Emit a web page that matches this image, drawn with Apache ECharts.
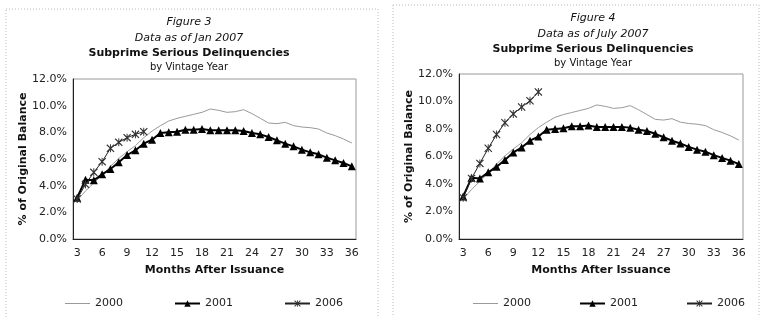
<!DOCTYPE html>
<html>
<head>
<meta charset="utf-8">
<script src="https://cdn.jsdelivr.net/npm/echarts@6/dist/echarts.min.js"></script>
<style>
  html, body { margin: 0; padding: 0; background: #fff; }
  #chart { width: 763px; height: 317px; }
</style>
</head>
<body>
<div id="chart"></div>
<script>
// months after issuance, 3..36
var months = [];
for (var m = 3; m <= 36; m++) months.push(String(m));

// percent of original balance
var vintage2000 = [2.9, 3.6, 4.2, 4.8, 5.45, 6.05, 6.55, 7.0, 7.6, 8.1,
                   8.5, 8.85, 9.05, 9.2, 9.35, 9.5, 9.75, 9.65, 9.5, 9.55,
                   9.7, 9.4, 9.05, 8.7, 8.65, 8.75, 8.5, 8.4, 8.35, 8.25,
                   7.95, 7.75, 7.5, 7.2];
var vintage2001 = [3.1, 4.45, 4.4, 4.85, 5.25, 5.75, 6.3, 6.65, 7.15, 7.45,
                   7.95, 8.0, 8.05, 8.2, 8.2, 8.25, 8.15, 8.15, 8.15, 8.15,
                   8.1, 7.95, 7.85, 7.65, 7.4, 7.15, 6.95, 6.7, 6.5, 6.35,
                   6.1, 5.9, 5.7, 5.45];
var vintage2006Jan = [3.0, 4.1, 5.0, 5.8, 6.8, 7.25, 7.6, 7.85, 8.05];
var vintage2006Jul = [3.0, 4.4, 5.5, 6.6, 7.6, 8.45, 9.1, 9.6, 10.05, 10.7];

var yTicks = { min: 0, max: 12, interval: 2 };

var font = 'DejaVu Sans';
var asterisk = 'path://M1,0L5,4L9,0L10,1L6,5L10,9L9,10L5,6L1,10L0,9L4,5L0,1Z M4.4,0L5.6,0L5.6,10L4.4,10Z';
// plain thin line for the 2000 legend entry (tiny corner dots keep the box 25x8)
var thinLine = 'path://M0,0L0.01,0L0.01,0.01Z M0,3.6L25,3.6L25,4.4L0,4.4Z M24.99,7.99L25,7.99L25,8Z';

function xAxis(idx) {
  return {
    type: 'category', gridIndex: idx, data: months, boundaryGap: true,
    name: 'Months After Issuance', nameLocation: 'middle', nameGap: 26,
    nameTextStyle: { fontFamily: font, fontWeight: 'bold', fontSize: 11, color: '#111' },
    axisLine: { lineStyle: { color: '#222', width: 1 } },
    axisTick: { show: false },
    axisLabel: { interval: 2, fontFamily: font, fontSize: 11, color: '#222', margin: 9 },
    splitLine: { show: false }
  };
}
function yAxis(idx) {
  return {
    type: 'value', gridIndex: idx, min: yTicks.min, max: yTicks.max, interval: yTicks.interval,
    name: '% of Original Balance', nameLocation: 'middle', nameGap: 42,
    nameTextStyle: { fontFamily: font, fontWeight: 'bold', fontSize: 11, color: '#111' },
    axisLine: { show: true, lineStyle: { color: '#222', width: 1 } },
    axisTick: { show: false },
    axisLabel: { fontFamily: font, fontSize: 11, color: '#222', margin: 6,
      formatter: function (v) { return v.toFixed(1) + '%'; } },
    splitLine: { show: false }
  };
}
function lines(idx, data2006) {
  return [
    { name: '2000', type: 'line', xAxisIndex: idx, yAxisIndex: idx, data: vintage2000,
      symbol: 'none', lineStyle: { color: '#9a9a9a', width: 1 }, itemStyle: { color: '#9a9a9a' } },
    { name: '2001', type: 'line', xAxisIndex: idx, yAxisIndex: idx, data: vintage2001,
      symbol: 'triangle', symbolSize: 8, showAllSymbol: true,
      lineStyle: { color: '#000', width: 2 }, itemStyle: { color: '#000' } },
    { name: '2006', type: 'line', xAxisIndex: idx, yAxisIndex: idx, data: data2006,
      symbol: asterisk, symbolSize: 8, showAllSymbol: true,
      lineStyle: { color: '#222', width: 1 }, itemStyle: { color: '#333' } }
  ];
}
function legend(left, gap) {
  return {
    left: left, top: 293, itemGap: gap, itemWidth: 25, itemHeight: 8,
    textStyle: { fontFamily: font, fontSize: 11, color: '#222' },
    data: [{ name: '2000', icon: thinLine }, '2001', '2006'], selectedMode: false
  };
}
function heading(x, y, txt) {
  return [
    { type: 'text', x: x, y: y, style: { text: txt[0], fontFamily: font, fontStyle: 'italic', fontSize: 11, fill: '#111', align: 'center', verticalAlign: 'middle' } },
    { type: 'text', x: x, y: y + 16, style: { text: txt[1], fontFamily: font, fontStyle: 'italic', fontSize: 11, fill: '#111', align: 'center', verticalAlign: 'middle' } },
    { type: 'text', x: x, y: y + 31, style: { text: txt[2], fontFamily: font, fontWeight: 'bold', fontSize: 11, fill: '#111', align: 'center', verticalAlign: 'middle' } },
    { type: 'text', x: x, y: y + 45, style: { text: txt[3], fontFamily: font, fontSize: 10, fill: '#111', align: 'center', verticalAlign: 'middle' } }
  ];
}

var myChart = echarts.init(document.getElementById('chart'), null, { renderer: 'canvas' });
var option = {
  backgroundColor: '#fff',
  animation: false,
  grid: [
    { left: 73, right: 407, top: 79, bottom: 78, show: true, borderColor: '#999', borderWidth: 1 },
    { left: 459, right: 20, top: 74, bottom: 78, show: true, borderColor: '#999', borderWidth: 1 }
  ],
  xAxis: [xAxis(0), xAxis(1)],
  yAxis: [yAxis(0), yAxis(1)],
  legend: [legend(60, 51), legend(468, 48)],
  series: lines(0, vintage2006Jan).concat(lines(1, vintage2006Jul)),
  graphic: [
    { type: 'rect', shape: { x: 6, y: 9, width: 372, height: 310 }, style: { fill: 'none', stroke: '#bbb', lineWidth: 1, lineDash: [1, 2] } },
    { type: 'rect', shape: { x: 393, y: 5, width: 366, height: 314 }, style: { fill: 'none', stroke: '#bbb', lineWidth: 1, lineDash: [1, 2] } }
  ].concat(
    heading(189, 22, ['Figure 3', 'Data as of Jan 2007', 'Subprime Serious Delinquencies', 'by Vintage Year']),
    heading(593, 18, ['Figure 4', 'Data as of July 2007', 'Subprime Serious Delinquencies', 'by Vintage Year'])
  )
};
myChart.setOption(option);
</script>
</body>
</html>
